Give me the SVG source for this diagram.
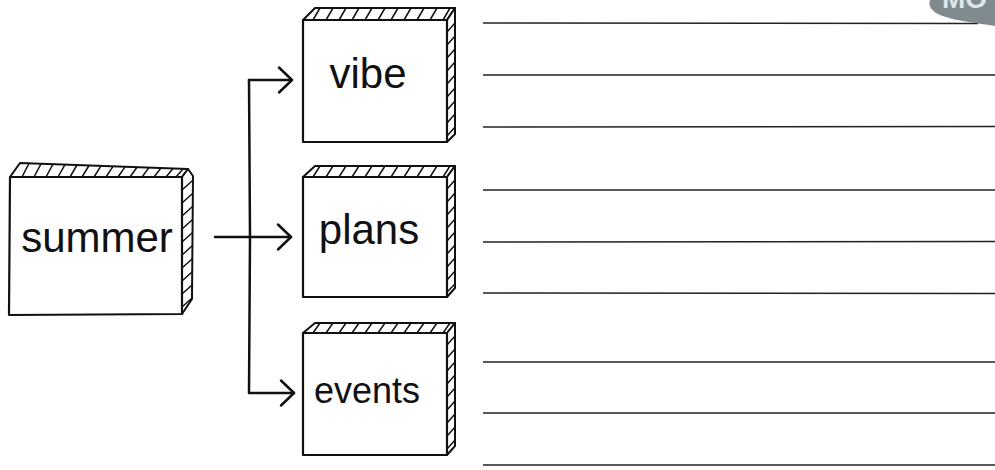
<svg xmlns="http://www.w3.org/2000/svg" width="995" height="470" viewBox="0 0 995 470">
<defs>
<style>
.edge{fill:#fff;stroke:#111;stroke-width:2.2;stroke-linejoin:round}
.side{fill:#fff;stroke:#111;stroke-width:2;stroke-linejoin:round}
.hat{fill:none;stroke:#111;stroke-width:1.5;stroke-linecap:round}
.lbl{font-family:"Liberation Sans",Arial,sans-serif;fill:#111;text-anchor:middle}
.conn{fill:none;stroke:#111;stroke-width:2.5;stroke-linecap:round;stroke-linejoin:round}
.rule{fill:none;stroke:#222;stroke-width:1.4}
</style>
<marker id="arr" markerUnits="userSpaceOnUse" markerWidth="30" markerHeight="30" refX="15" refY="15" orient="auto" viewBox="0 0 30 30">
<path d="M2,2.5 L15,15 L2,27.5" fill="none" stroke="#111" stroke-width="2.5" stroke-linecap="round" stroke-linejoin="round"/>
</marker>
</defs>
<rect width="995" height="470" fill="#fff"/>

<g id="rules">
<path class="rule" d="M483,23 L978,23.5"/>
<path class="rule" d="M483,75 L995,75"/>
<path class="rule" d="M483,127 L995,126.5"/>
<path class="rule" d="M483,190 L995,190"/>
<path class="rule" d="M483,242 L995,241.5"/>
<path class="rule" d="M483,293 L995,293.5"/>
<path class="rule" d="M483,362 L995,362"/>
<path class="rule" d="M483,413 L995,413"/>
<path class="rule" d="M483,465 L995,465"/>
</g>

<g id="badge">
<path d="M930,0 L995,0 L995,26 C975,23 952,20 940,15 C931,11 928,5 930,0 Z" fill="#808b8f"/>
<text x="942" y="8" font-family="Liberation Sans,Arial,sans-serif" font-weight="bold" font-size="28" fill="#dde6e9">MO</text>
</g>

<g id="summer">
<polygon class="side" points="10,177 20,163 188,169 182,177"/>
<polygon class="side" points="182,177 188,169 193,176 192,299 182,314"/>
<path class="hat" d="M22,177L29,163.3M34,177L41,163.8M46,177L53,164.2M58,177L65,164.6M70,177L77,165M82,177L89,165.5M94,177L101,165.9M106,177L113,166.3M118,177L125,166.8M130,177L137,167.2M142,177L149,167.6M154,177L161,168M166,177L173,168.5M176,177L183,169
M182,190L192,181M182,203L192,194M182,216L192,207M182,229L192,220M182,242L192,233M182,255L192,246M182,268L192,259M182,281L192,272M182,294L192,285M182,307L192,298"/>
<polygon class="edge" points="10,177 182,177 182,314 9,315"/>
<text class="lbl" x="97" y="252" font-size="42">summer</text>
</g>

<g id="vibe">
<polygon class="side" points="303,20 315,8 455,8 447,20"/>
<polygon class="side" points="447,20 455,8 455,134 447,142"/>
<path class="hat" d="M313,20L320,8M326,20L333,8M339,20L346,8M352,20L359,8M365,20L372,8M378,20L385,8M391,20L398,8M404,20L411,8M417,20L424,8M430,20L437,8M443,20L450,8
M447,32L455,23M447,45L455,36M447,58L455,49M447,71L455,62M447,84L455,75M447,97L455,88M447,110L455,101M447,123L455,114M447,136L455,127"/>
<polygon class="edge" points="303,20 447,20 447,142 303,142"/>
<text class="lbl" x="368" y="88" font-size="42">vibe</text>
</g>

<g id="plans">
<polygon class="side" points="303,177 315,166 455,166 447,177"/>
<polygon class="side" points="447,177 455,166 455,288 447,297"/>
<path class="hat" d="M313,177L320,166M326,177L333,166M339,177L346,166M352,177L359,166M365,177L372,166M378,177L385,166M391,177L398,166M404,177L411,166M417,177L424,166M430,177L437,166M443,177L450,166
M447,189L455,180M447,202L455,193M447,215L455,206M447,228L455,219M447,241L455,232M447,254L455,245M447,267L455,258M447,280L455,271M447,292L455,284"/>
<polygon class="edge" points="303,177 447,177 447,297 303,297"/>
<text class="lbl" x="369" y="244" font-size="42">plans</text>
</g>

<g id="events">
<polygon class="side" points="303,333 315,323 455,323 447,333"/>
<polygon class="side" points="447,333 455,323 455,446 447,455"/>
<path class="hat" d="M313,333L320,323M326,333L333,323M339,333L346,323M352,333L359,323M365,333L372,323M378,333L385,323M391,333L398,323M404,333L411,323M417,333L424,323M430,333L437,323M443,333L450,323
M447,345L455,336M447,358L455,349M447,371L455,362M447,384L455,375M447,397L455,388M447,410L455,401M447,423L455,414M447,436L455,427M447,449L455,440"/>
<polygon class="edge" points="303,333 447,333 447,455 303,455"/>
<text class="lbl" x="367" y="403" font-size="36">events</text>
</g>

<g id="connectors">
<path class="conn" d="M249,80 L292,80" marker-end="url(#arr)"/>
<path class="conn" d="M215,237 L291,237" marker-end="url(#arr)"/>
<path class="conn" d="M249,80 L250,237 L249,393 L294,393" marker-end="url(#arr)"/>
</g>
</svg>
